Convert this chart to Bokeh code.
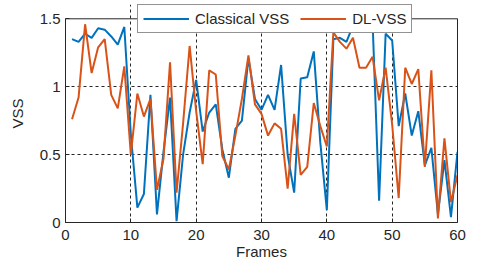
from bokeh.plotting import figure
from bokeh.models import Legend, LegendItem, FixedTicker, Range1d, LinearAxis, Span
from bokeh.embed import file_html
from bokeh.resources import INLINE

frames = list(range(1, 61))
classical_vss = [1.35, 1.33, 1.39, 1.36, 1.43, 1.42, 1.37, 1.31, 1.44, 0.65,
                 0.11, 0.21, 0.94, 0.06, 0.52, 0.92, 0.01, 0.50, 0.81, 1.05,
                 0.67, 0.81, 0.87, 0.54, 0.33, 0.69, 0.75, 1.21, 0.91, 0.83,
                 0.94, 0.83, 1.16, 0.50, 0.22, 1.06, 1.07, 1.26, 0.59, 0.09,
                 1.35, 1.36, 1.33, 1.45, 1.47, 1.45, 1.48, 0.16, 1.39, 1.34,
                 0.71, 0.95, 0.64, 0.82, 0.42, 0.55, 0.06, 0.46, 0.04, 0.52]
dl_vss = [0.76, 0.92, 1.46, 1.10, 1.29, 1.35, 0.94, 0.84, 1.15, 0.50,
          0.95, 0.78, 0.91, 0.24, 0.47, 1.18, 0.22, 0.73, 1.30, 0.82,
          0.43, 1.12, 1.09, 0.49, 0.39, 0.64, 0.91, 1.23, 0.87, 0.80,
          0.64, 0.73, 0.69, 0.25, 0.80, 0.35, 0.41, 0.88, 0.71, 0.56,
          1.40, 1.33, 1.28, 1.36, 1.14, 1.14, 1.22, 0.90, 1.14, 0.72,
          0.18, 1.14, 1.02, 1.13, 0.41, 1.12, 0.03, 0.62, 0.15, 0.35]
series_names = ["Classical VSS", "DL-VSS"]
x_ticks = [0, 10, 20, 30, 40, 50, 60]
y_ticks = [0, 0.5, 1, 1.5]
y_tick_labels = ["0", "0.5", "1", "1.5"]
y_max = 1.5

FONT = "Liberation Sans"
AX = "#262626"
BLUE = "#0072BD"
ORANGE = "#D95319"

# frame extends a little above y=1.5 so the legend (which overlaps the top edge) is not clipped
p = figure(width=480, height=268, output_backend="svg", toolbar_location=None,
           x_range=Range1d(0, 60), y_range=Range1d(0, 218 / 135.8),
           min_border_left=65, min_border_right=23, min_border_top=4,
           min_border_bottom=46)
p.background_fill_color = "white"
p.border_fill_color = "white"
p.outline_line_color = None

for ax in (p.xaxis[0], p.yaxis[0]):
    ax.major_tick_in = 4
    ax.major_tick_out = 0
    ax.minor_tick_line_color = None
    ax.axis_line_color = AX
    ax.major_tick_line_color = AX
    ax.major_label_text_font = FONT
    ax.major_label_text_font_size = "15px"
    ax.major_label_text_color = AX
    ax.axis_label_text_font = FONT
    ax.axis_label_text_font_size = "15px"
    ax.axis_label_text_font_style = "normal"
    ax.axis_label_text_color = AX

p.xaxis[0].ticker = FixedTicker(ticks=x_ticks)
p.yaxis[0].ticker = FixedTicker(ticks=y_ticks)
p.yaxis[0].bounds = (0, y_max)
p.yaxis[0].major_label_overrides = {t: l for t, l in zip(y_ticks, y_tick_labels)}
p.xaxis[0].axis_label = "Frames"
p.yaxis[0].axis_label = "VSS"
p.xaxis[0].major_label_standoff = 7
p.xaxis[0].axis_label_standoff = 0
p.yaxis[0].major_label_standoff = 5
p.yaxis[0].axis_label_standoff = 11

right = LinearAxis(ticker=FixedTicker(ticks=[]), bounds=(0, y_max),
                   axis_line_color=AX, axis_line_width=1,
                   major_tick_line_color=None, minor_tick_line_color=None)
p.add_layout(right, "right")
p.add_layout(Span(location=y_max, dimension="width", line_color=AX, line_width=1))

p.xgrid.ticker = FixedTicker(ticks=x_ticks[1:-1])
p.ygrid.ticker = FixedTicker(ticks=y_ticks[1:-1])
p.xgrid.bounds = (0, y_max)
for g in (p.xgrid[0], p.ygrid[0]):
    g.grid_line_color = "black"
    g.grid_line_dash = "3 3"
    g.grid_line_width = 1
    g.grid_line_alpha = 0.85

r1 = p.line(frames, classical_vss, line_color=BLUE, line_width=2)
r2 = p.line(frames, dl_vss, line_color=ORANGE, line_width=2)

legend = Legend(items=[LegendItem(label=series_names[0], renderers=[r1]),
                       LegendItem(label=series_names[1], renderers=[r2])],
                orientation="horizontal", location=(72, 189),
                label_text_font=FONT, label_text_font_size="15px", label_text_color=AX,
                glyph_width=46, glyph_height=17, label_height=17, label_standoff=6,
                spacing=11, padding=5, margin=0,
                border_line_color=AX, border_line_width=1,
                background_fill_color="white", background_fill_alpha=1)
p.add_layout(legend)

open("out.html", "w").write(file_html(p, INLINE))
